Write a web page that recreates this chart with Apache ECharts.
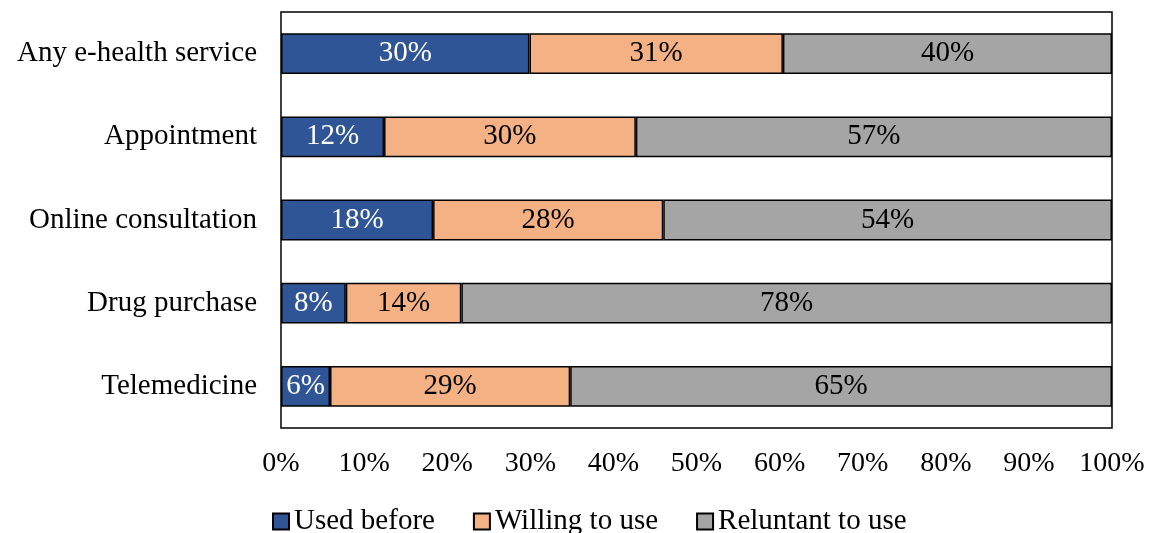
<!DOCTYPE html>
<html>
<head>
<meta charset="utf-8">
<script src="https://cdn.jsdelivr.net/npm/echarts@6/dist/echarts.min.js"></script>
<style>
  html, body { margin: 0; padding: 0; background: #fff; }
  #charts { width: 1162px; height: 533px; }
</style>
</head>
<body>
<div id="charts"></div>
<script>
// 类目
const categories = ['Any e-health service', 'Appointment', 'Online consultation', 'Drug purchase', 'Telemedicine']
// 各系列数值 (%)
const usedBefore = [29.9, 12.4, 18.3, 7.8, 5.9]
const willingToUse = [30.5, 30.3, 27.7, 13.9, 28.9]
const reluntantToUse = [39.6, 57.3, 54.0, 78.3, 65.2]
const seriesNames = ['Used before', 'Willing to use', 'Reluntant to use']

const font = 'Liberation Serif, Times New Roman, serif'
const colors = ['#2F5597', '#F4B183', '#A5A5A5']
const labelColors = ['#fff', '#000', '#000']

const makeSeries = (name, data, index) => ({
  name: name,
  type: 'bar',
  stack: 'total',
  data: data,
  barCategoryGap: '51%',
  itemStyle: { color: colors[index], borderColor: '#000', borderWidth: 1.5 },
  label: {
    show: true,
    position: 'inside',
    color: labelColors[index],
    fontFamily: font,
    fontSize: 29,
    formatter: p => Math.round(p.value) + '%'
  },
  emphasis: { disabled: true }
})

const echart = echarts.init(document.getElementById('charts'))
const option = {
  animation: false,
  grid: {
    left: 281, right: 50, top: 12, bottom: 105,
    show: true, borderColor: '#000', borderWidth: 1.5, backgroundColor: '#fff'
  },
  legend: {
    left: 267, top: 502,
    itemWidth: 16, itemHeight: 16, itemGap: 38,
    icon: 'rect',
    textStyle: { fontFamily: font, fontSize: 29, color: '#000' },
    data: seriesNames
  },
  xAxis: {
    type: 'value',
    min: 0, max: 100, interval: 10,
    axisLine: { show: false },
    axisTick: { show: false },
    splitLine: { show: false },
    axisLabel: { formatter: '{value}%', fontFamily: font, fontSize: 28, color: '#000', margin: 22 }
  },
  yAxis: {
    type: 'category',
    inverse: true,
    data: categories,
    axisLine: { show: false },
    axisTick: { show: false },
    axisLabel: { fontFamily: font, fontSize: 29, color: '#000', margin: 24 }
  },
  series: [
    makeSeries(seriesNames[0], usedBefore, 0),
    makeSeries(seriesNames[1], willingToUse, 1),
    makeSeries(seriesNames[2], reluntantToUse, 2)
  ]
}
echart.setOption(option)
</script>
</body>
</html>
